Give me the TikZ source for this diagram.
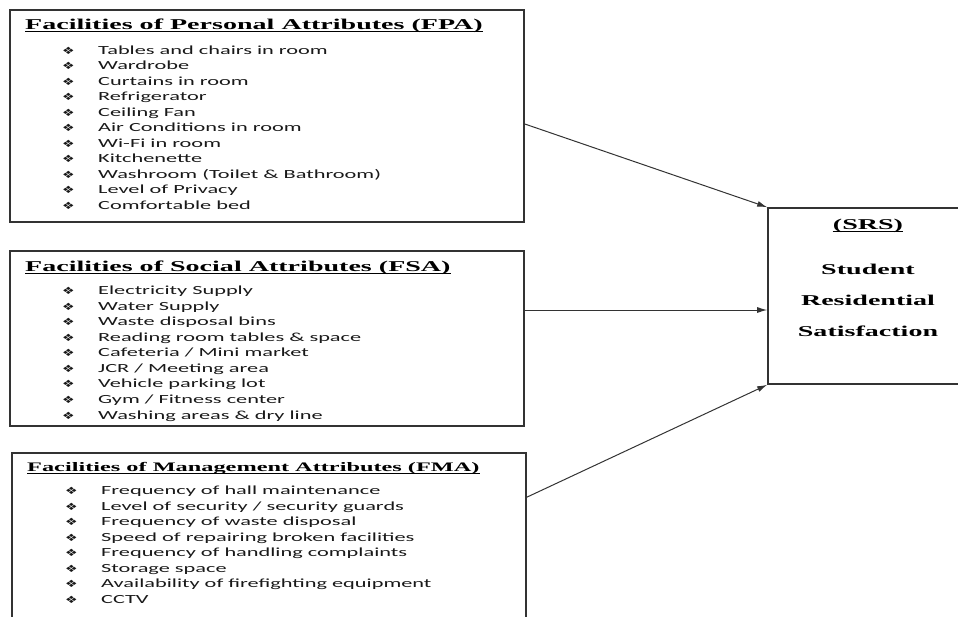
\documentclass[tikz,border=0pt]{standalone}
\usepackage{fontspec}
\setmainfont{Liberation Serif}
\newfontfamily\itemfont[FakeStretch=1.8]{Carlito}
\newfontfamily\headfont[FakeStretch=1.87]{Liberation Serif Bold}
\newfontfamily\bulfont[FakeStretch=1.4]{DejaVu Sans}
\usepackage{tikz}
\usetikzlibrary{arrows.meta}
\newcommand{\itm}[1]{\makebox[36pt][l]{\bulfont\fontsize{10}{10}\selectfont ❖}#1}

\begin{document}
\begin{tikzpicture}[x=1pt,y=-1pt]
\tikzstyle{box}=[draw=black!80,line width=1.6pt,inner sep=0pt]
\tikzstyle{head}=[anchor=base west,inner sep=0pt,font=\headfont\fontsize{15}{18}\selectfont]
\tikzstyle{item}=[anchor=base west,inner sep=0pt,text=black!90,font=\itemfont\fontsize{12.4}{15}\selectfont]
\tikzstyle{srstext}=[anchor=base,inner sep=0pt,font=\headfont\fontsize{15}{18}\selectfont]
\tikzstyle{arr}=[-{Latex[length=10pt,width=6pt]},line width=1pt,draw=black!80]
\tikzstyle{uline}=[line width=1.5pt]
\useasboundingbox (0,0) rectangle (958,616);
% boxes
\node[box,minimum width=514pt,minimum height=212pt] (fpa) at (267,116) {};
\node[box,minimum width=514pt,minimum height=175pt] (fsa) at (267,338.5) {};
\node[box,minimum width=514pt,minimum height=187pt] (fma) at (269,546.5) {};
\node[box,minimum width=200pt,minimum height=176pt] (srs) at (868,296) {};
% personal attributes
\node[head] (fpat) at (25,29) {Facilities of Personal Attributes (FPA)};
\draw[uline] ([yshift=-2.5pt]fpat.base west) -- ([yshift=-2.5pt]fpat.base east);
\node[item] (p1) at (62,54.3) {\itm{Tables and chairs in room}};
\node[item] (p2) at (62,69.8) {\itm{Wardrobe}};
\node[item] (p3) at (62,85.3) {\itm{Curtains in room}};
\node[item] (p4) at (62,100.8) {\itm{Refrigerator}};
\node[item] (p5) at (62,116.3) {\itm{Ceiling Fan}};
\node[item] (p6) at (62,131.8) {\itm{Air Conditions in room}};
\node[item] (p7) at (62,147.3) {\itm{Wi-Fi in room}};
\node[item] (p8) at (62,162.8) {\itm{Kitchenette}};
\node[item] (p9) at (62,178.3) {\itm{Washroom (Toilet \& Bathroom)}};
\node[item] (p10) at (62,193.8) {\itm{Level of Privacy}};
\node[item] (p11) at (62,209.3) {\itm{Comfortable bed}};
% social attributes
\node[head] (fsat) at (25,271) {Facilities of Social Attributes (FSA)};
\draw[uline] ([yshift=-2.5pt]fsat.base west) -- ([yshift=-2.5pt]fsat.base east);
\node[item] (s1) at (62,294.7) {\itm{Electricity Supply}};
\node[item] (s2) at (62,310.2) {\itm{Water Supply}};
\node[item] (s3) at (62,325.8) {\itm{Waste disposal bins}};
\node[item] (s4) at (62,341.3) {\itm{Reading room tables \& space}};
\node[item] (s5) at (62,356.9) {\itm{Cafeteria / Mini market}};
\node[item] (s6) at (62,372.4) {\itm{JCR / Meeting area}};
\node[item] (s7) at (62,387.9) {\itm{Vehicle parking lot}};
\node[item] (s8) at (62,403.5) {\itm{Gym / Fitness center}};
\node[item] (s9) at (62,419.0) {\itm{Washing areas \& dry line}};
% management attributes
\node[head,font=\headfont\fontsize{13}{16}\selectfont] (fmat) at (27,471) {Facilities of Management Attributes (FMA)};
\draw[uline] ([yshift=-2.5pt]fmat.base west) -- ([yshift=-2.5pt]fmat.base east);
\node[item] (m1) at (65,494.7) {\itm{Frequency of hall maintenance}};
\node[item] (m2) at (65,510.2) {\itm{Level of security / security guards}};
\node[item] (m3) at (65,525.6) {\itm{Frequency of waste disposal}};
\node[item] (m4) at (65,541.1) {\itm{Speed of repairing broken facilities}};
\node[item] (m5) at (65,556.6) {\itm{Frequency of handling complaints}};
\node[item] (m6) at (65,572.0) {\itm{Storage space}};
\node[item] (m7) at (65,587.5) {\itm{Availability of firefighting equipment}};
\node[item] (m8) at (65,603.0) {\itm{CCTV}};
% satisfaction
\node[srstext] (srst) at (868,229) {(SRS)};
\draw[uline] ([yshift=-2.5pt]srst.base west) -- ([yshift=-2.5pt]srst.base east);
\node[srstext] (srs1) at (868,274) {Student};
\node[srstext] (srs2) at (868,305) {Residential};
\node[srstext] (srs3) at (868,336) {Satisfaction};
% arrows
\coordinate (fsaout) at ([yshift=28.5pt]fsa.east);
\draw[arr] ([yshift=-8pt]fpa.east) -- (srs.north west);
\draw[arr] (fsaout) -- (fsaout -| srs.west);
\draw[arr] ([yshift=-45pt]fma.north east) -- (srs.south west);
\end{tikzpicture}
\end{document}
